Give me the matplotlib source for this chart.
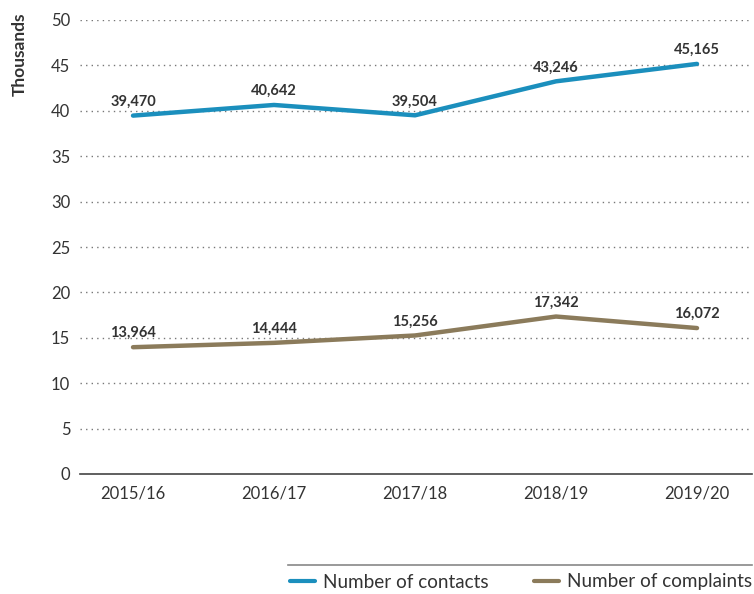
import matplotlib
matplotlib.use("Agg")
import matplotlib.pyplot as plt
from matplotlib.lines import Line2D

years = ["2015/16", "2016/17", "2017/18", "2018/19", "2019/20"]
contacts = [39470, 40642, 39504, 43246, 45165]
complaints = [13964, 14444, 15256, 17342, 16072]
yticks = [0, 5, 10, 15, 20, 25, 30, 35, 40, 45, 50]

blue = "#1b8fbd"
brown = "#8b7b5b"
txt = "#333333"

plt.rcParams['font.family'] = ['Lato', 'DejaVu Sans']

fig = plt.figure(figsize=(7.54, 5.94), dpi=100)
ax = fig.add_axes([80/754, 1-474/594, 672/754, 454/594])

x = list(range(len(years)))
ax.plot(x, [v/1000 for v in contacts], color=blue, lw=3.2, solid_capstyle='round', solid_joinstyle='round', zorder=3)
ax.plot(x, [v/1000 for v in complaints], color=brown, lw=3.2, solid_capstyle='round', solid_joinstyle='round', zorder=3)

for xi, v in zip(x, contacts):
    ax.annotate(f"{v:,}", (xi, v/1000), xytext=(0, 5), textcoords='offset points',
                ha='center', va='bottom', fontsize=10.5, fontweight='bold', color=txt)
for xi, v in zip(x, complaints):
    ax.annotate(f"{v:,}", (xi, v/1000), xytext=(0, 5), textcoords='offset points',
                ha='center', va='bottom', fontsize=10.5, fontweight='bold', color=txt)

ax.set_xlim(-0.376, 4.39)
ax.set_ylim(0, 50)
ax.set_yticks(yticks)
ax.set_xticks(x)
ax.set_xticklabels(years)
ax.tick_params(axis='both', length=0, labelsize=12, colors=txt)
ax.tick_params(axis='y', pad=7)
ax.tick_params(axis='x', pad=8)
for t in yticks[1:]:
    ax.axhline(t, color='#777777', lw=1, ls=(0, (1, 3)), zorder=1)
for s in ['top', 'right', 'left']:
    ax.spines[s].set_visible(False)
ax.spines['bottom'].set_color('#444444')
ax.spines['bottom'].set_linewidth(1.2)

fig.text(20/754, 1-13/594, "Thousands", rotation=90, ha='center', va='top',
         fontsize=12.5, fontweight='bold', color=txt)

fig.add_artist(Line2D([288/754, 752/754], [1-565/594, 1-565/594], color='#888888', lw=1.2))

handles = [Line2D([], [], color=blue, lw=3, solid_capstyle='round'),
           Line2D([], [], color=brown, lw=3, solid_capstyle='round')]
fig.legend(handles, ["Number of contacts", "Number of complaints"], loc='center right',
           bbox_to_anchor=(1.02, 1-582/594), ncol=2, frameon=False, fontsize=13.6,
           handlelength=1.35, handletextpad=0.4, columnspacing=2.4, labelcolor=txt)

fig.savefig("out.png", dpi=100)
